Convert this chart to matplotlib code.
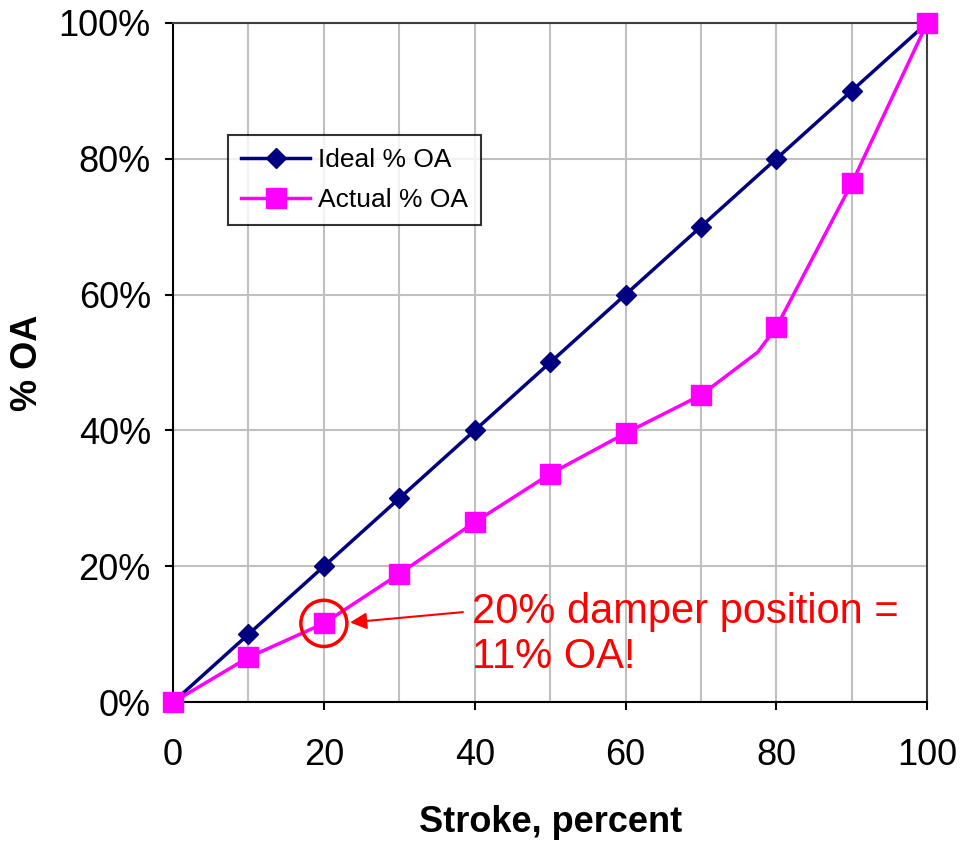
import numpy as np
import matplotlib.pyplot as plt
from matplotlib.patches import Ellipse

plt.rcParams['font.family'] = ['Liberation Sans', 'DejaVu Sans']

stroke = [0, 10, 20, 30, 40, 50, 60, 70, 80, 90, 100]
ideal = [0, 10, 20, 30, 40, 50, 60, 70, 80, 90, 100]
# actual curve, with one extra unmarked point where the line bends near 77%
actual_x = [0, 10, 20, 30, 40, 50, 60, 70, 77.5, 80, 90, 100]
actual = [0, 6.6, 11.6, 18.9, 26.5, 33.6, 39.6, 45.2, 51.5, 55.2, 76.4, 100]
actual_marks = [0, 1, 2, 3, 4, 5, 6, 7, 9, 10, 11]

fig = plt.figure(figsize=(9.72, 8.43), dpi=100)
ax = fig.add_axes([0.178, 0.167, 0.776, 0.806])

ax.plot(stroke, ideal, color='#000080', lw=2.5, marker='D', ms=10,
        label='Ideal % OA', zorder=3, clip_on=False)
ax.plot(actual_x, actual, color='#FF00FF', lw=2.5, marker='s', ms=14,
        markevery=actual_marks, label='Actual % OA', zorder=4, clip_on=False)

ax.set_xlim(0, 100)
ax.set_ylim(0, 100)
ax.set_xticks(np.arange(0, 101, 20))
ax.set_yticks(np.arange(0, 101, 20))
ax.set_yticklabels([f'{v}%' for v in range(0, 101, 20)])
ax.set_xticks(np.arange(0, 101, 10), minor=True)
ax.grid(True, which='both', color='#c0c0c0', lw=1.5)
ax.set_axisbelow(True)
ax.tick_params(which='major', labelsize=26, length=6, width=1.5)
ax.tick_params(axis='x', which='major', pad=20)
ax.tick_params(axis='y', which='major', pad=10)
ax.tick_params(which='minor', length=0)
for s in ['left', 'bottom']:
    ax.spines[s].set_color('black')
    ax.spines[s].set_linewidth(1.5)
for s in ['top', 'right']:
    ax.spines[s].set_color('#404040')
    ax.spines[s].set_linewidth(1.5)

ax.set_xlabel('Stroke, percent', fontsize=26, fontweight='bold')
ax.set_ylabel('% OA', fontsize=26, fontweight='bold')
ax.xaxis.set_label_coords(0.5, -0.152)
ax.yaxis.set_label_coords(-0.17, 0.5)

leg = ax.legend(loc='upper left', bbox_to_anchor=(0.073, 0.835), fontsize=19,
                frameon=True, fancybox=False, edgecolor='black',
                handlelength=2.6, handletextpad=0.3, borderpad=0.5,
                labelspacing=0.6, borderaxespad=0)
leg.get_frame().set_linewidth(1.5)

# highlight the 20% point
ax.add_patch(Ellipse((20, 11.6), 6.1, 6.8, fill=False, edgecolor='red', lw=2.5, zorder=5))
ax.annotate('', xy=(23.1, 11.7), xytext=(38.8, 13.3),
            arrowprops=dict(arrowstyle='-|>', color='red', lw=1.5,
                            mutation_scale=25))
ax.text(39.6, 10.0, '20% damper position =\n11% OA!', color='red',
        fontsize=30, va='center', ha='left', linespacing=1.15)

fig.savefig('out.png', dpi=100)
